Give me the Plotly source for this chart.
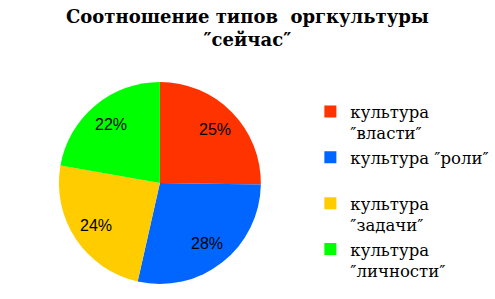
import math
import plotly.graph_objects as go

labels = ["культура<br>″власти″", "культура ″роли″<br> ", "культура<br>″задачи″", "культура<br>″личности″"]
values = [25, 28, 24, 22]
colors = ["#FF3300", "#0066FF", "#FFCC00", "#00FF00"]
title_text = "<b>Соотношение типов  оргкультуры<br>″сейчас″</b>"

W, H = 495, 299
dom_x = [0.119, 0.527]
dom_y = [0.050, 0.726]

fig = go.Figure(go.Pie(
    labels=labels, values=values, sort=False, direction="clockwise", rotation=0,
    marker=dict(colors=colors, line=dict(width=0)),
    textinfo="none",
    domain=dict(x=dom_x, y=dom_y),
    hoverinfo="none",
))

# data labels placed at ~0.76 of the radius along each slice's mid-angle
cx = (dom_x[0] + dom_x[1]) / 2 * W
cy = (dom_y[0] + dom_y[1]) / 2 * H
R = min((dom_x[1] - dom_x[0]) * W, (dom_y[1] - dom_y[0]) * H) / 2
total = sum(values)
cum = 0
for v in values:
    mid = (cum + v / 2) / total * 2 * math.pi
    cum += v
    px = cx + 0.76 * R * math.sin(mid)
    py = cy + 0.76 * R * math.cos(mid)
    fig.add_annotation(text=f"{round(v / total * 100)}%", xref="paper", yref="paper",
                       x=px / W, y=py / H, xanchor="center", yanchor="middle",
                       showarrow=False,
                       font=dict(family="Liberation Sans", size=16, color="black"))

fig.add_annotation(text=title_text, xref="paper", yref="paper", x=0.5, y=0.985,
                   xanchor="center", yanchor="top", showarrow=False,
                   font=dict(family="DejaVu Serif", size=18, color="black"))
fig.update_layout(
    width=W, height=H, margin=dict(l=0, r=0, t=0, b=0, autoexpand=False),
    paper_bgcolor="white", plot_bgcolor="white",
    legend=dict(x=0.627, y=0.685, xanchor="left", yanchor="top", valign="top",
                font=dict(family="DejaVu Serif", size=16.5, color="black"),
                itemsizing="constant", itemwidth=30, tracegroupgap=0),
    showlegend=True,
)
fig.write_html("out.html")
